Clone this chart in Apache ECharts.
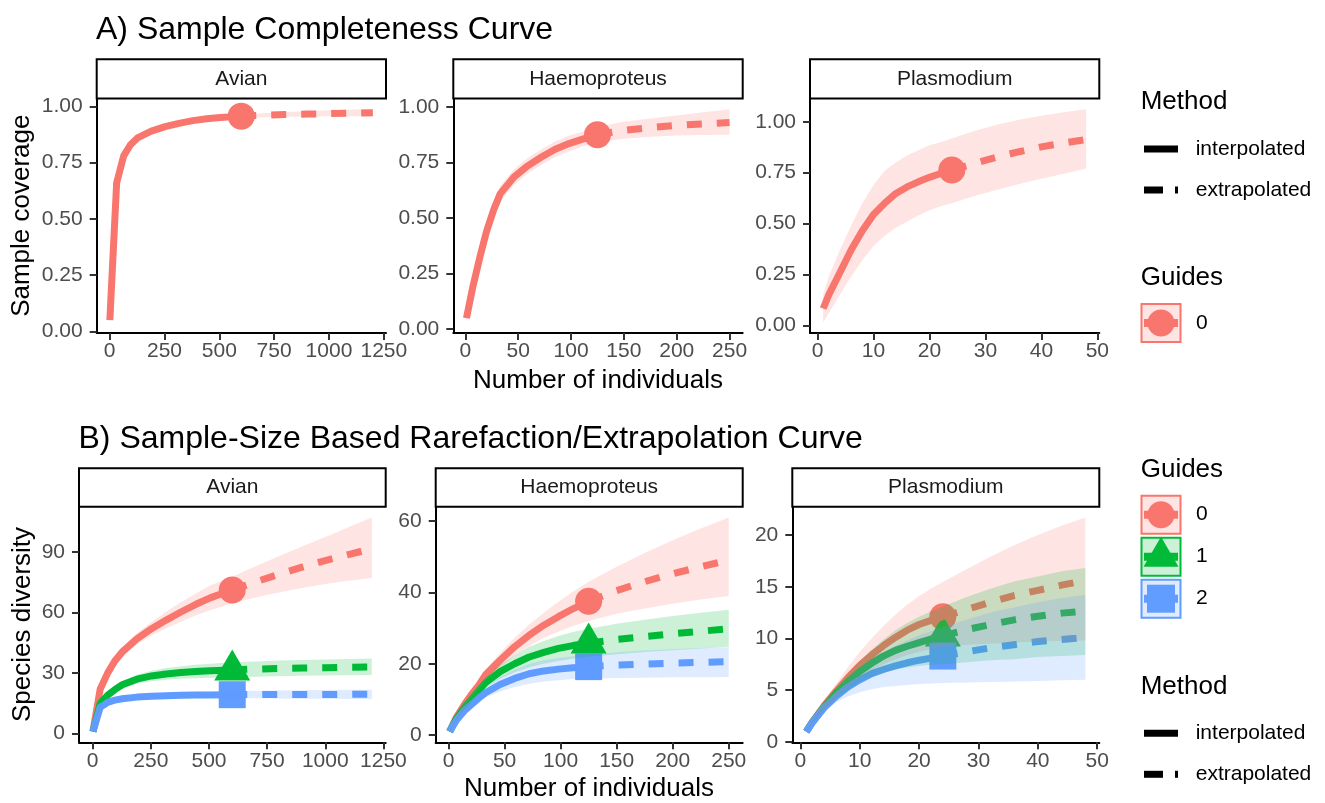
<!DOCTYPE html>
<html><head><meta charset="utf-8">
<script src="https://cdn.jsdelivr.net/npm/echarts@6/dist/echarts.min.js"></script>
<style>html,body{margin:0;padding:0;background:#fff}#c{width:1325px;height:803px}</style>
</head><body><div id="c"></div>
<script>
// ---------------- DATA ----------------
const facetNames = ['Avian', 'Haemoproteus', 'Plasmodium'];
const guideNames = ['0', '1', '2'];
const sampleSize = [600, 125, 24];

const avianX = [1, 32, 64, 95, 127, 190, 253, 316, 379, 442, 505, 600, 700, 800, 900, 1000, 1100, 1200];
const haemoX = [1, 7, 14, 20, 27, 33, 46, 59, 72, 85, 98, 111, 125, 150, 175, 200, 225, 250];
const plasX  = [1, 2, 4, 6, 8, 10, 12, 14, 16, 18, 20, 22, 24, 28, 32, 36, 40, 44, 48];

// A) sample coverage (guide 0 only)
const covAvian   = [0.05, 0.66, 0.78, 0.83, 0.86, 0.89, 0.91, 0.925, 0.937, 0.945, 0.951, 0.957, 0.961, 0.964, 0.966, 0.968, 0.970, 0.972];
const covAvianLo = [0.04, 0.65, 0.772, 0.822, 0.853, 0.884, 0.904, 0.919, 0.931, 0.939, 0.945, 0.95, 0.952, 0.954, 0.955, 0.956, 0.956, 0.956];
const covAvianHi = [0.06, 0.67, 0.788, 0.838, 0.867, 0.896, 0.916, 0.931, 0.943, 0.951, 0.957, 0.964, 0.970, 0.975, 0.979, 0.983, 0.986, 0.988];

const covHaemo   = [0.05, 0.19, 0.33, 0.44, 0.54, 0.61, 0.685, 0.735, 0.775, 0.81, 0.835, 0.855, 0.875, 0.895, 0.907, 0.917, 0.924, 0.93];
const covHaemoLo = [0.031, 0.17, 0.305, 0.41, 0.505, 0.575, 0.65, 0.70, 0.74, 0.775, 0.80, 0.822, 0.84, 0.857, 0.866, 0.872, 0.874, 0.875];
const covHaemoHi = [0.07, 0.21, 0.355, 0.47, 0.575, 0.645, 0.72, 0.77, 0.81, 0.845, 0.87, 0.888, 0.91, 0.933, 0.948, 0.962, 0.976, 0.99];

const covPlas   = [0.083, 0.15, 0.26, 0.37, 0.465, 0.545, 0.60, 0.648, 0.68, 0.705, 0.727, 0.746, 0.763, 0.795, 0.826, 0.853, 0.877, 0.896, 0.913];
const covPlasLo = [0.015, 0.06, 0.15, 0.24, 0.32, 0.39, 0.44, 0.48, 0.51, 0.54, 0.565, 0.585, 0.60, 0.635, 0.665, 0.695, 0.72, 0.745, 0.771];
const covPlasHi = [0.149, 0.24, 0.37, 0.49, 0.60, 0.69, 0.76, 0.80, 0.835, 0.86, 0.885, 0.90, 0.918, 0.955, 0.985, 1.01, 1.03, 1.047, 1.062];

// B) species diversity
const divAvian0   = [1, 22, 30, 36, 40.5, 47, 52, 56.3, 60.3, 64, 67.3, 71.2, 75.2, 79, 82.5, 85.8, 88.8, 91.7];
const divAvian0Lo = [1, 21, 28.5, 34, 38.2, 44.2, 48.6, 52.2, 55.5, 58.6, 61.2, 64.6, 67.5, 70, 72.2, 74.2, 75.8, 77.2];
const divAvian0Hi = [1, 23, 31.5, 38, 42.8, 49.8, 55.4, 60.4, 65.1, 69.4, 73.4, 77.8, 83, 88, 92.8, 97.5, 102.3, 107.2];
const divAvian1   = [1, 15, 19, 21.8, 24.2, 27, 28.6, 29.6, 30.3, 30.8, 31.2, 31.6, 32, 32.3, 32.5, 32.7, 32.9, 33.0];
const divAvian1Lo = [1, 14.2, 17.8, 20.2, 22.3, 24.8, 26, 26.7, 27.2, 27.5, 27.7, 27.8, 28.2, 28.5, 28.7, 28.8, 28.9, 29];
const divAvian1Hi = [1, 15.8, 20.2, 23.4, 26.1, 29.2, 31.2, 32.5, 33.4, 34.1, 34.7, 35.4, 35.8, 36.2, 36.5, 36.8, 37, 37.2];
const divAvian2   = [1, 13, 15.5, 16.6, 17.3, 18.1, 18.5, 18.8, 19.0, 19.1, 19.2, 19.3, 19.35, 19.4, 19.4, 19.45, 19.45, 19.5];
const divAvian2Lo = [1, 12.4, 14.7, 15.6, 16.2, 16.9, 17.2, 17.4, 17.5, 17.55, 17.6, 17.6, 17.5, 17.4, 17.3, 17.3, 17.2, 17.2];
const divAvian2Hi = [1, 13.6, 16.3, 17.6, 18.4, 19.3, 19.8, 20.2, 20.5, 20.7, 20.8, 21, 21.2, 21.4, 21.5, 21.6, 21.7, 21.8];

const divHaemo0   = [1, 5, 8.5, 11.2, 14, 16.9, 21, 24.8, 28, 30.8, 33.2, 35.4, 37.5, 40.5, 43, 45.2, 47.2, 49];
const divHaemo0Lo = [1, 4.7, 8, 10.5, 13, 15.5, 19, 22.3, 25, 27.3, 29, 30.6, 32, 34, 35.5, 36.8, 38, 39];
const divHaemo0Hi = [1, 5.3, 9, 11.9, 15, 18.3, 23, 27.3, 31, 34.3, 37.4, 40.2, 43, 47.2, 51, 54.6, 57.9, 61];
const divHaemo1   = [1, 4.6, 7.6, 9.9, 12.5, 14.7, 17.8, 20, 21.9, 23.2, 24.3, 25.1, 25.8, 26.8, 27.6, 28.4, 29.1, 29.8];
const divHaemo1Lo = [1, 4.4, 7.1, 9.2, 11.4, 13.2, 15.8, 17.6, 19, 20, 20.8, 21.4, 22, 22.7, 23.3, 23.8, 24.3, 24.8];
const divHaemo1Hi = [1, 4.8, 8.1, 10.6, 13.6, 16.2, 19.8, 22.4, 24.8, 26.4, 27.8, 28.9, 29.8, 31.2, 32.3, 33.4, 34.3, 35.1];
const divHaemo2   = [1, 4.2, 6.8, 8.5, 10.4, 11.9, 14.2, 15.9, 17.2, 18, 18.5, 18.9, 19.2, 19.6, 19.9, 20.2, 20.4, 20.6];
const divHaemo2Lo = [1, 4, 6.3, 7.8, 9.3, 10.5, 12.2, 13.5, 14.4, 15, 15.4, 15.7, 15.9, 16, 16.1, 16.2, 16.25, 16.3];
const divHaemo2Hi = [1, 4.4, 7.3, 9.2, 11.5, 13.3, 16.2, 18.3, 20, 21, 21.6, 22.1, 22.5, 23.2, 23.7, 24.1, 24.4, 24.6];

const divPlas0   = [1, 1.9, 3.5, 4.9, 6.2, 7.4, 8.4, 9.3, 10.1, 10.8, 11.35, 11.75, 12.1, 12.8, 13.5, 14.15, 14.65, 15.15, 15.6];
const divPlas0Lo = [1, 1.8, 3.2, 4.3, 5.3, 6.2, 6.9, 7.5, 8.0, 8.4, 8.7, 9.0, 9.2, 9.4, 9.5, 9.6, 9.7, 9.75, 9.8];
const divPlas0Hi = [1, 2.0, 3.9, 5.6, 7.2, 8.7, 10, 11.2, 12.3, 13.25, 14.1, 14.8, 15.45, 16.7, 17.9, 19.0, 20.0, 20.9, 21.7];
const divPlas1   = [1, 1.9, 3.4, 4.7, 5.8, 6.8, 7.6, 8.3, 8.85, 9.25, 9.6, 9.95, 10.25, 10.85, 11.35, 11.8, 12.15, 12.45, 12.65];
const divPlas1Lo = [1, 1.8, 3.1, 4.2, 5.0, 5.8, 6.3, 6.7, 7.0, 7.2, 7.35, 7.45, 7.5, 7.7, 7.9, 8.0, 8.2, 8.3, 8.4];
const divPlas1Hi = [1, 2.0, 3.7, 5.2, 6.6, 7.8, 8.9, 9.9, 10.8, 11.5, 12.1, 12.6, 13.1, 14.0, 14.8, 15.5, 16.0, 16.5, 16.8];
const divPlas2   = [1, 1.85, 3.3, 4.4, 5.3, 6.0, 6.6, 7.0, 7.35, 7.65, 7.9, 8.1, 8.3, 8.7, 9.1, 9.4, 9.7, 9.9, 10.1];
const divPlas2Lo = [1, 1.7, 2.9, 3.8, 4.4, 4.8, 5.1, 5.3, 5.4, 5.5, 5.6, 5.65, 5.7, 5.75, 5.8, 5.85, 5.9, 5.95, 6.0];
const divPlas2Hi = [1, 1.95, 3.6, 5.0, 6.2, 7.2, 8.0, 8.7, 9.3, 9.8, 10.3, 10.7, 11.1, 11.8, 12.5, 13.0, 13.5, 13.9, 14.2];

// tick labels
const xTicksAvian = [0, 250, 500, 750, 1000, 1250];
const xTicksHaemo = [0, 50, 100, 150, 200, 250];
const xTicksPlas  = [0, 10, 20, 30, 40, 50];
const yTicksCov   = [0, 0.25, 0.5, 0.75, 1];
const yTicksDivAvian = [0, 30, 60, 90];
const yTicksDivHaemo = [0, 20, 40, 60];
const yTicksDivPlas  = [0, 5, 10, 15, 20];

// ---------------- STYLE / LAYOUT ----------------
const FONT = "'Liberation Sans', Arial, Helvetica, sans-serif";
const colors = ['#F8766D', '#00BA38', '#619CFF'];
const fills = ['rgba(248,118,109,0.2)', 'rgba(0,186,56,0.2)', 'rgba(97,156,255,0.2)'];
const shapes = ['circle', 'triangle', 'rect'];
const shapeSize = [27, [36, 31], 27];
const shapeOffset = [[0, 0], [0, -5], [0, 0]];
const LW = 7;
const TICK_FS = 21;

const layA = {top: 98.5, h: 234.5, stripTop: 59.3, cols: [{left: 96.7, w: 289.3}, {left: 453.3, w: 289.4}, {left: 810, w: 289.3}]};
const layB = {top: 506.7, h: 235.6, stripTop: 468.3, cols: [{left: 79, w: 306.7}, {left: 435.7, w: 307}, {left: 792.3, w: 307}]};

const grids = [], xAxes = [], yAxes = [], series = [], graphics = [];

function addPanel(idx, lay, col, xs, n, groups, xt, yt, yfmt) {
  const c = lay.cols[col];
  grids.push({left: c.left, top: lay.top, width: c.w, height: lay.h, containLabel: false, outerBoundsMode: 'none'});
  const xr = xs[xs.length - 1] - xs[0];
  const allLo = Math.min(...groups.flatMap(g => g.lo));
  const allHi = Math.max(...groups.flatMap(g => g.hi));
  const yr = allHi - allLo;
  const axisCommon = {
    axisLine: {show: true, onZero: false, lineStyle: {color: '#000', width: 2}},
    splitLine: {show: false}
  };
  xAxes.push(Object.assign({}, axisCommon, {
    type: 'value', gridIndex: idx, min: xs[0] - 0.05 * xr, max: xs[xs.length - 1] + 0.05 * xr,
    axisTick: {show: true, length: 7, lineStyle: {color: '#333', width: 2}, customValues: xt},
    axisLabel: {customValues: xt, color: '#4D4D4D', fontSize: TICK_FS, fontFamily: FONT, margin: 8, formatter: v => String(v)}
  }));
  yAxes.push(Object.assign({}, axisCommon, {
    type: 'value', gridIndex: idx, min: allLo - 0.05 * yr, max: allHi + 0.05 * yr,
    axisTick: {show: true, length: 7, lineStyle: {color: '#333', width: 2}, customValues: yt},
    axisLabel: {customValues: yt, color: '#4D4D4D', fontSize: TICK_FS, fontFamily: FONT, margin: 14, formatter: yfmt}
  }));
  const ni = xs.indexOf(n);
  groups.forEach(g => {
    series.push({type: 'scatter', xAxisIndex: idx, yAxisIndex: idx, z: 2, silent: true,
      symbol: shapes[g.k], symbolSize: shapeSize[g.k], symbolOffset: shapeOffset[g.k],
      itemStyle: {color: colors[g.k], opacity: 1}, data: [[n, g.y[ni]]]});
  });
  groups.forEach(g => {
    const interp = [], extrap = [];
    xs.forEach((x, k) => { if (x <= n) interp.push([x, g.y[k]]); if (x >= n) extrap.push([x, g.y[k]]); });
    const common = {type: 'line', xAxisIndex: idx, yAxisIndex: idx, z: 3, silent: true, symbol: 'none', showSymbol: false, smooth: false};
    series.push(Object.assign({}, common, {data: interp, lineStyle: {color: colors[g.k], width: LW, cap: 'butt', join: 'round'}}));
    series.push(Object.assign({}, common, {data: extrap, lineStyle: {color: colors[g.k], width: LW, cap: 'butt', join: 'round', type: [15, 15]}}));
  });
  groups.forEach(g => {
    const data = xs.map((x, k) => [x, g.lo[k], g.hi[k]]);
    series.push({type: 'custom', xAxisIndex: idx, yAxisIndex: idx, z: 4, silent: true, clip: true,
      encode: {x: 0, y: [1, 2]}, data: data,
      renderItem: function (params, api) {
        if (params.dataIndex !== 0) return null;
        const pts = [];
        for (let k = 0; k < data.length; k++) pts.push(api.coord([data[k][0], data[k][2]]));
        for (let k = data.length - 1; k >= 0; k--) pts.push(api.coord([data[k][0], data[k][1]]));
        return {type: 'polygon', shape: {points: pts}, style: {fill: fills[g.k], stroke: null}};
      }});
  });
  // facet strip
  graphics.push({type: 'rect', z: 10, shape: {x: c.left, y: lay.stripTop, width: c.w, height: lay.top - lay.stripTop},
    style: {fill: '#fff', stroke: '#000', lineWidth: 2}});
  graphics.push({type: 'text', z: 11, x: c.left + c.w / 2, y: (lay.stripTop + lay.top) / 2,
    style: {text: facetNames[col], fontSize: 21, fontFamily: FONT, fill: '#1A1A1A', align: 'center', verticalAlign: 'middle'}});
}

const covFmt = v => v.toFixed(2);
const intFmt = v => String(v);

addPanel(0, layA, 0, avianX, sampleSize[0], [{k: 0, y: covAvian, lo: covAvianLo, hi: covAvianHi}], xTicksAvian, yTicksCov, covFmt);
addPanel(1, layA, 1, haemoX, sampleSize[1], [{k: 0, y: covHaemo, lo: covHaemoLo, hi: covHaemoHi}], xTicksHaemo, yTicksCov, covFmt);
addPanel(2, layA, 2, plasX, sampleSize[2], [{k: 0, y: covPlas, lo: covPlasLo, hi: covPlasHi}], xTicksPlas, yTicksCov, covFmt);
addPanel(3, layB, 0, avianX, sampleSize[0], [
  {k: 0, y: divAvian0, lo: divAvian0Lo, hi: divAvian0Hi},
  {k: 1, y: divAvian1, lo: divAvian1Lo, hi: divAvian1Hi},
  {k: 2, y: divAvian2, lo: divAvian2Lo, hi: divAvian2Hi}], xTicksAvian, yTicksDivAvian, intFmt);
addPanel(4, layB, 1, haemoX, sampleSize[1], [
  {k: 0, y: divHaemo0, lo: divHaemo0Lo, hi: divHaemo0Hi},
  {k: 1, y: divHaemo1, lo: divHaemo1Lo, hi: divHaemo1Hi},
  {k: 2, y: divHaemo2, lo: divHaemo2Lo, hi: divHaemo2Hi}], xTicksHaemo, yTicksDivHaemo, intFmt);
addPanel(5, layB, 2, plasX, sampleSize[2], [
  {k: 0, y: divPlas0, lo: divPlas0Lo, hi: divPlas0Hi},
  {k: 1, y: divPlas1, lo: divPlas1Lo, hi: divPlas1Hi},
  {k: 2, y: divPlas2, lo: divPlas2Lo, hi: divPlas2Hi}], xTicksPlas, yTicksDivPlas, intFmt);

// titles and axis titles
function txt(x, y, s, size, align, rot) {
  const el = {type: 'text', z: 11, x: x, y: y,
    style: {text: s, fontSize: size, fontFamily: FONT, fill: '#000', align: align || 'left', verticalAlign: 'middle'}};
  if (rot) el.rotation = rot;
  return el;
}
graphics.push(txt(96, 30, 'A) Sample Completeness Curve', 32));
graphics.push(txt(78.5, 439, 'B) Sample-Size Based Rarefaction/Extrapolation Curve', 32));
graphics.push(txt(598, 381, 'Number of individuals', 26, 'center'));
graphics.push(txt(589, 789, 'Number of individuals', 26, 'center'));
graphics.push(txt(22, 215.7, 'Sample coverage', 26, 'center', Math.PI / 2));
graphics.push(txt(22.5, 624.5, 'Species diversity', 26, 'center', Math.PI / 2));

// legends
function methodLegend(yTitle, yInt, yExt) {
  graphics.push(txt(1140.7, yTitle, 'Method', 26));
  graphics.push({type: 'line', z: 11, shape: {x1: 1144, y1: yInt, x2: 1178, y2: yInt}, style: {stroke: '#000', lineWidth: LW}});
  graphics.push(txt(1195.7, yInt, 'interpolated', 21));
  graphics.push({type: 'line', z: 11, shape: {x1: 1144, y1: yExt, x2: 1163, y2: yExt}, style: {stroke: '#000', lineWidth: LW}});
  graphics.push({type: 'line', z: 11, shape: {x1: 1175, y1: yExt, x2: 1178, y2: yExt}, style: {stroke: '#000', lineWidth: LW}});
  graphics.push(txt(1195.7, yExt, 'extrapolated', 21));
}
function guideKey(k, cy) {
  const cx = 1161;
  graphics.push({type: 'rect', z: 11, shape: {x: 1141.5, y: cy - 19, width: 39, height: 38},
    style: {fill: fills[k], stroke: colors[k], lineWidth: 2}});
  graphics.push({type: 'line', z: 12, shape: {x1: 1144, y1: cy, x2: 1178, y2: cy}, style: {stroke: colors[k], lineWidth: 8}});
  if (k === 0) graphics.push({type: 'circle', z: 13, shape: {cx: cx, cy: cy, r: 13.5}, style: {fill: colors[k]}});
  if (k === 1) graphics.push({type: 'polygon', z: 13, shape: {points: [[cx, cy - 20], [cx + 17.5, cy + 10], [cx - 17.5, cy + 10]]}, style: {fill: colors[k]}});
  if (k === 2) graphics.push({type: 'rect', z: 13, shape: {x: cx - 14, y: cy - 14, width: 28, height: 28}, style: {fill: colors[k]}});
  graphics.push(txt(1196, cy, guideNames[k], 21));
}
methodLegend(102.3, 149, 190);
graphics.push(txt(1140.7, 278, 'Guides', 26));
guideKey(0, 323);
graphics.push(txt(1140.7, 470, 'Guides', 26));
guideKey(0, 514.7);
guideKey(1, 556.7);
guideKey(2, 598.7);
methodLegend(686.7, 733.3, 774.3);

const chart = echarts.init(document.getElementById('c'), null, {renderer: 'canvas'});
chart.setOption({
  animation: false,
  backgroundColor: '#fff',
  textStyle: {fontFamily: FONT},
  grid: grids, xAxis: xAxes, yAxis: yAxes, series: series,
  graphic: {elements: graphics}
});
</script>
</body></html>
